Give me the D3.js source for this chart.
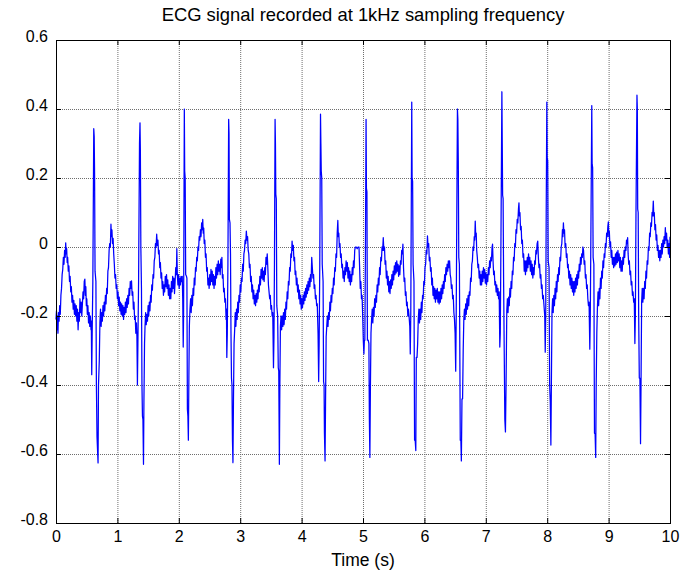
<!DOCTYPE html>
<html><head><meta charset="utf-8">
<script src="https://cdn.jsdelivr.net/npm/d3@7"></script>
<style>
body{margin:0;background:#fff}
text{font-family:"Liberation Sans",Arial,Helvetica,sans-serif;fill:#000}
</style>
</head><body><svg id="c" width="684" height="572"></svg>
<script>
const chartTitle = "ECG signal recorded at 1kHz sampling frequency";
const xLabel = "Time (s)";
const xTicks = [0,1,2,3,4,5,6,7,8,9,10];
const yTicks = [-0.8,-0.6,-0.4,-0.2,0,0.2,0.4,0.6];
const yTickLabels = ["-0.8","-0.6","-0.4","-0.2","0","0.2","0.4","0.6"];
const xDomain = [0,10];
const yDomain = [-0.8,0.6];
// [time (s), amplitude]
const ecg = [
[0.000,-0.210],[0.008,-0.185],[0.016,-0.240],[0.024,-0.200],[0.032,-0.250],[0.040,-0.190],[0.050,-0.215],[0.060,-0.170],[0.070,-0.195],[0.080,-0.140],[0.090,-0.120],[0.100,-0.080],[0.110,-0.065],[0.120,-0.030],[0.130,-0.050],[0.140,-0.010],[0.150,-0.030],[0.158,0.012],[0.166,-0.020],[0.174,-0.005],[0.182,-0.045],[0.190,-0.030],[0.200,-0.070],[0.210,-0.055],[0.220,-0.100],[0.230,-0.085],[0.240,-0.130],[0.250,-0.115],[0.260,-0.160],[0.270,-0.140],[0.280,-0.180],[0.290,-0.155],[0.300,-0.195],[0.310,-0.165],[0.320,-0.200],[0.330,-0.170],[0.340,-0.215],[0.350,-0.180],[0.360,-0.240],[0.370,-0.190],[0.380,-0.215],[0.390,-0.150],[0.400,-0.190],[0.410,-0.160],[0.420,-0.200],[0.430,-0.165],[0.440,-0.130],[0.450,-0.150],[0.460,-0.100],[0.470,-0.093],[0.478,-0.140],[0.486,-0.115],[0.494,-0.170],[0.502,-0.150],[0.510,-0.195],[0.520,-0.170],[0.530,-0.220],[0.540,-0.190],[0.550,-0.230],[0.560,-0.200],[0.570,-0.240],
[0.575,-0.215],[0.582,-0.370],[0.590,-0.240],[0.600,-0.100],[0.615,0.343],[0.622,0.320],[0.628,0.220],[0.636,-0.070],[0.650,-0.100],[0.658,-0.400],[0.668,-0.550],[0.685,-0.626],[0.692,-0.400],[0.705,-0.330],[0.715,-0.220],
[0.725,-0.180],[0.735,-0.230],[0.745,-0.190],[0.755,-0.215],[0.765,-0.170],[0.775,-0.200],[0.785,-0.160],[0.795,-0.185],[0.805,-0.140],[0.815,-0.165],[0.825,-0.120],[0.835,-0.135],[0.845,-0.070],[0.855,-0.060],[0.865,-0.010],[0.875,0.010],[0.885,0.000],[0.895,0.066],[0.903,0.030],[0.911,0.050],[0.920,0.010],[0.930,0.025],[0.940,-0.020],[0.950,-0.050],[0.960,-0.090],[0.970,-0.080],[0.980,-0.120],[0.990,-0.110],[1.000,-0.150],[1.010,-0.130],[1.020,-0.170],[1.030,-0.145],[1.040,-0.185],[1.050,-0.160],[1.060,-0.195],[1.070,-0.165],[1.080,-0.200],[1.090,-0.170],[1.100,-0.210],[1.110,-0.175],[1.120,-0.195],[1.130,-0.160],[1.140,-0.190],[1.150,-0.150],[1.160,-0.175],[1.170,-0.140],[1.180,-0.165],[1.190,-0.120],[1.200,-0.140],[1.210,-0.100],[1.220,-0.120],[1.230,-0.098],[1.240,-0.140],[1.250,-0.130],[1.260,-0.180],[1.270,-0.160],[1.280,-0.210],[1.290,-0.200],[1.300,-0.250],[1.310,-0.220],
[1.318,-0.260],[1.326,-0.400],[1.334,-0.280],[1.345,-0.100],[1.360,0.300],[1.368,0.360],[1.374,0.280],[1.382,0.000],[1.392,-0.120],[1.400,-0.400],[1.408,-0.490],[1.416,-0.500],[1.425,-0.630],[1.432,-0.450],[1.442,-0.280],[1.450,-0.230],
[1.460,-0.190],[1.470,-0.225],[1.480,-0.195],[1.490,-0.215],[1.500,-0.170],[1.510,-0.200],[1.520,-0.160],[1.530,-0.185],[1.540,-0.140],[1.550,-0.160],[1.560,-0.110],[1.570,-0.125],[1.580,-0.080],[1.590,-0.090],[1.600,-0.040],[1.610,-0.030],[1.620,0.010],[1.630,0.000],[1.640,0.037],[1.650,0.005],[1.660,0.020],[1.670,-0.020],[1.680,-0.010],[1.690,-0.060],[1.700,-0.045],[1.710,-0.090],[1.720,-0.075],[1.730,-0.120],[1.740,-0.100],[1.750,-0.140],[1.760,-0.110],[1.770,-0.130],[1.780,-0.085],[1.790,-0.115],[1.800,-0.080],[1.810,-0.120],[1.820,-0.095],[1.830,-0.140],[1.840,-0.110],[1.850,-0.150],[1.860,-0.120],[1.870,-0.150],[1.880,-0.100],[1.890,-0.130],[1.900,-0.085],[1.910,-0.120],[1.920,-0.090],[1.930,-0.135],[1.940,-0.100],[1.950,-0.060],[1.960,-0.080],[1.968,-0.005],[1.976,-0.080],[1.986,-0.110],[1.996,-0.080],[2.006,-0.120],[2.016,-0.090],[2.026,-0.110],[2.036,-0.085],
[2.046,-0.100],[2.056,-0.085],[2.064,-0.150],[2.072,-0.290],[2.078,-0.200],[2.084,0.100],[2.090,0.400],[2.096,0.220],[2.104,0.200],[2.112,-0.080],[2.125,-0.085],[2.132,-0.090],[2.140,-0.470],[2.148,-0.490],[2.156,-0.560],[2.164,-0.380],[2.172,-0.230],
[2.182,-0.180],[2.192,-0.150],[2.202,-0.190],[2.212,-0.140],[2.222,-0.170],[2.232,-0.120],[2.242,-0.140],[2.252,-0.090],[2.262,-0.110],[2.272,-0.060],[2.282,-0.070],[2.292,-0.030],[2.302,-0.040],[2.312,0.000],[2.322,-0.010],[2.332,0.030],[2.342,0.020],[2.352,0.050],[2.362,0.030],[2.372,0.070],[2.382,0.050],[2.390,0.080],[2.398,0.040],[2.406,0.055],[2.414,0.010],[2.424,0.020],[2.434,-0.030],[2.444,-0.020],[2.454,-0.070],[2.464,-0.060],[2.474,-0.110],[2.484,-0.090],[2.494,-0.120],[2.504,-0.080],[2.514,-0.110],[2.524,-0.065],[2.534,-0.100],[2.544,-0.070],[2.554,-0.110],[2.564,-0.080],[2.574,-0.120],[2.584,-0.085],[2.594,-0.110],[2.604,-0.060],[2.614,-0.090],[2.624,-0.050],[2.634,-0.080],[2.644,-0.040],[2.654,-0.070],[2.664,-0.050],[2.674,-0.080],[2.684,-0.035],[2.694,-0.060],[2.702,-0.030],[2.710,-0.090],[2.720,-0.080],[2.730,-0.130],[2.740,-0.120],[2.750,-0.160],[2.760,-0.150],[2.770,-0.210],[2.776,-0.180],
[2.782,-0.320],[2.790,-0.250],[2.800,-0.050],[2.812,0.370],[2.818,0.330],[2.824,0.080],[2.834,0.070],[2.842,-0.020],[2.850,-0.250],[2.858,-0.380],[2.866,-0.400],[2.874,-0.560],[2.882,-0.625],[2.890,-0.450],[2.900,-0.280],[2.910,-0.240],
[2.920,-0.190],[2.930,-0.230],[2.940,-0.180],[2.950,-0.210],[2.960,-0.160],[2.970,-0.190],[2.980,-0.140],[2.990,-0.160],[3.000,-0.110],[3.010,-0.130],[3.020,-0.090],[3.030,-0.100],[3.040,-0.050],[3.050,-0.070],[3.060,-0.020],[3.070,-0.010],[3.080,0.020],[3.090,0.010],[3.100,0.046],[3.110,0.020],[3.120,0.030],[3.130,-0.010],[3.140,-0.020],[3.150,-0.060],[3.160,-0.050],[3.170,-0.100],[3.180,-0.085],[3.190,-0.130],[3.200,-0.110],[3.210,-0.150],[3.220,-0.125],[3.230,-0.165],[3.240,-0.140],[3.250,-0.170],[3.260,-0.135],[3.270,-0.160],[3.280,-0.125],[3.290,-0.150],[3.300,-0.110],[3.310,-0.130],[3.320,-0.085],[3.330,-0.110],[3.340,-0.065],[3.350,-0.090],[3.360,-0.060],[3.370,-0.095],[3.380,-0.070],[3.390,-0.100],[3.400,-0.060],[3.410,-0.080],[3.420,-0.030],[3.430,-0.050],[3.440,-0.020],[3.450,-0.060],[3.460,-0.110],[3.470,-0.130],[3.480,-0.150],[3.490,-0.140],[3.500,-0.180],[3.510,-0.170],[3.520,-0.200],
[3.530,-0.190],[3.542,-0.350],[3.550,-0.260],[3.558,-0.050],[3.568,0.370],[3.574,0.300],[3.580,0.153],[3.588,0.140],[3.596,-0.170],[3.610,-0.200],[3.620,-0.350],[3.628,-0.360],[3.638,-0.630],[3.646,-0.400],[3.655,-0.230],
[3.665,-0.200],[3.675,-0.240],[3.685,-0.200],[3.695,-0.230],[3.705,-0.190],[3.715,-0.225],[3.725,-0.180],[3.735,-0.210],[3.745,-0.160],[3.755,-0.180],[3.765,-0.130],[3.775,-0.150],[3.785,-0.100],[3.795,-0.110],[3.805,-0.060],[3.815,-0.070],[3.825,-0.020],[3.835,-0.030],[3.845,0.017],[3.855,-0.010],[3.865,0.005],[3.875,-0.040],[3.885,-0.030],[3.895,-0.080],[3.905,-0.070],[3.915,-0.110],[3.925,-0.090],[3.935,-0.130],[3.945,-0.110],[3.955,-0.150],[3.965,-0.125],[3.975,-0.165],[3.985,-0.140],[3.995,-0.180],[4.005,-0.150],[4.015,-0.175],[4.025,-0.140],[4.035,-0.165],[4.045,-0.130],[4.055,-0.155],[4.065,-0.120],[4.075,-0.145],[4.085,-0.110],[4.095,-0.135],[4.105,-0.100],[4.115,-0.125],[4.125,-0.090],[4.135,-0.115],[4.145,-0.080],[4.155,-0.100],[4.165,-0.030],[4.175,-0.060],[4.185,-0.090],[4.195,-0.080],[4.205,-0.120],[4.215,-0.110],[4.225,-0.150],[4.235,-0.140],[4.245,-0.170],[4.255,-0.165],
[4.268,-0.250],[4.278,-0.390],[4.286,-0.280],[4.296,-0.050],[4.308,0.385],[4.314,0.300],[4.320,0.220],[4.328,0.200],[4.336,-0.050],[4.350,-0.100],[4.358,-0.390],[4.366,-0.400],[4.372,-0.540],[4.382,-0.620],[4.390,-0.450],[4.400,-0.260],[4.410,-0.230],
[4.420,-0.200],[4.430,-0.230],[4.440,-0.190],[4.450,-0.210],[4.460,-0.160],[4.470,-0.185],[4.480,-0.140],[4.490,-0.160],[4.500,-0.120],[4.510,-0.135],[4.520,-0.090],[4.530,-0.110],[4.540,-0.060],[4.550,-0.070],[4.560,-0.020],[4.570,-0.030],[4.580,0.040],[4.590,0.077],[4.598,0.030],[4.606,0.040],[4.615,0.000],[4.625,0.010],[4.635,-0.030],[4.645,-0.020],[4.655,-0.060],[4.665,-0.050],[4.675,-0.090],[4.685,-0.070],[4.695,-0.100],[4.705,-0.060],[4.715,-0.080],[4.725,-0.040],[4.735,-0.070],[4.745,-0.045],[4.755,-0.090],[4.765,-0.060],[4.775,-0.100],[4.785,-0.070],[4.795,-0.110],[4.805,-0.080],[4.815,-0.100],[4.825,-0.060],[4.835,-0.080],[4.845,-0.040],[4.855,-0.060],[4.865,-0.010],[4.875,0.000],[4.890,0.000],[4.905,-0.005],[4.920,0.000],[4.935,0.000],[4.945,-0.060],[4.955,-0.120],[4.965,-0.100],[4.975,-0.150],[4.985,-0.140],[4.995,-0.200],[5.005,-0.270],
[5.015,-0.310],[5.022,-0.270],[5.030,-0.270],[5.040,0.000],[5.050,0.370],[5.056,0.170],[5.064,0.160],[5.072,-0.270],[5.085,-0.270],[5.096,-0.280],[5.104,-0.500],[5.112,-0.610],[5.120,-0.420],[5.130,-0.250],[5.140,-0.210],
[5.150,-0.180],[5.160,-0.220],[5.170,-0.175],[5.180,-0.200],[5.190,-0.150],[5.200,-0.175],[5.210,-0.140],[5.220,-0.160],[5.230,-0.110],[5.240,-0.130],[5.250,-0.090],[5.260,-0.110],[5.270,-0.060],[5.280,-0.080],[5.290,-0.030],[5.300,-0.040],[5.310,0.000],[5.320,-0.010],[5.330,0.027],[5.340,-0.010],[5.350,0.000],[5.360,-0.050],[5.370,-0.040],[5.380,-0.090],[5.390,-0.070],[5.400,-0.110],[5.410,-0.085],[5.420,-0.130],[5.430,-0.100],[5.440,-0.135],[5.450,-0.095],[5.460,-0.120],[5.470,-0.080],[5.480,-0.110],[5.490,-0.070],[5.500,-0.095],[5.510,-0.055],[5.520,-0.080],[5.530,-0.045],[5.540,-0.075],[5.550,-0.040],[5.560,-0.070],[5.570,-0.050],[5.580,-0.085],[5.590,-0.055],[5.600,-0.080],[5.610,-0.040],[5.620,-0.050],[5.630,-0.010],[5.640,-0.020],[5.650,0.008],[5.660,-0.060],[5.670,-0.100],[5.680,-0.090],[5.690,-0.140],[5.700,-0.130],[5.710,-0.170],[5.720,-0.160],[5.730,-0.200],[5.740,-0.180],[5.750,-0.200],
[5.762,-0.230],[5.770,-0.310],[5.778,-0.200],[5.786,0.100],[5.794,0.420],[5.800,0.200],[5.808,0.190],[5.816,-0.050],[5.830,-0.100],[5.840,-0.560],[5.850,-0.560],[5.860,-0.590],[5.868,-0.320],[5.880,-0.320],[5.890,-0.280],[5.900,-0.210],
[5.910,-0.180],[5.920,-0.220],[5.930,-0.180],[5.940,-0.210],[5.950,-0.160],[5.960,-0.190],[5.970,-0.140],[5.980,-0.150],[5.990,-0.100],[6.000,-0.110],[6.010,-0.060],[6.020,-0.050],[6.030,-0.010],[6.040,-0.020],[6.050,0.032],[6.060,0.000],[6.070,0.010],[6.080,-0.040],[6.090,-0.030],[6.100,-0.070],[6.110,-0.060],[6.120,-0.110],[6.130,-0.090],[6.140,-0.140],[6.150,-0.115],[6.160,-0.150],[6.170,-0.120],[6.180,-0.160],[6.190,-0.125],[6.200,-0.150],[6.210,-0.120],[6.220,-0.160],[6.230,-0.130],[6.240,-0.165],[6.250,-0.130],[6.260,-0.160],[6.270,-0.120],[6.280,-0.150],[6.290,-0.110],[6.300,-0.135],[6.310,-0.100],[6.320,-0.120],[6.330,-0.080],[6.340,-0.100],[6.350,-0.060],[6.360,-0.080],[6.370,-0.050],[6.380,-0.070],[6.390,-0.040],[6.400,-0.060],[6.410,-0.040],[6.420,-0.080],[6.430,-0.090],[6.440,-0.120],[6.450,-0.110],[6.460,-0.150],[6.470,-0.140],[6.480,-0.190],[6.490,-0.210],
[6.500,-0.250],[6.510,-0.360],[6.518,-0.200],[6.528,0.100],[6.538,0.400],[6.545,0.370],[6.552,0.250],[6.560,-0.030],[6.570,-0.050],[6.584,-0.560],[6.594,-0.560],[6.602,-0.620],[6.612,-0.440],[6.622,-0.440],[6.632,-0.300],[6.642,-0.210],
[6.652,-0.180],[6.662,-0.210],[6.672,-0.165],[6.682,-0.195],[6.692,-0.150],[6.702,-0.180],[6.712,-0.140],[6.722,-0.170],[6.732,-0.130],[6.742,-0.140],[6.752,-0.090],[6.762,-0.100],[6.772,-0.050],[6.782,-0.040],[6.792,0.000],[6.802,-0.010],[6.812,0.030],[6.820,0.020],[6.828,0.075],[6.836,0.030],[6.844,0.040],[6.852,-0.010],[6.862,-0.030],[6.872,-0.060],[6.882,-0.050],[6.892,-0.090],[6.902,-0.070],[6.912,-0.110],[6.922,-0.080],[6.932,-0.110],[6.942,-0.070],[6.952,-0.100],[6.962,-0.060],[6.972,-0.090],[6.982,-0.065],[6.992,-0.105],[7.002,-0.075],[7.012,-0.110],[7.022,-0.080],[7.032,-0.100],[7.042,-0.060],[7.052,-0.080],[7.062,-0.040],[7.072,-0.060],[7.082,-0.030],[7.092,-0.040],[7.102,0.000],[7.110,0.008],[7.118,-0.040],[7.128,-0.080],[7.138,-0.070],[7.148,-0.110],[7.158,-0.100],[7.168,-0.130],[7.178,-0.110],[7.188,-0.140],[7.198,-0.120],[7.208,-0.150],[7.218,-0.130],
[7.228,-0.290],[7.236,-0.250],[7.246,0.000],[7.262,0.450],[7.268,0.300],[7.274,0.150],[7.282,0.140],[7.290,-0.100],[7.300,-0.300],[7.310,-0.500],[7.320,-0.536],[7.330,-0.400],[7.342,-0.185],
[7.352,-0.150],[7.362,-0.190],[7.372,-0.145],[7.382,-0.170],[7.392,-0.120],[7.402,-0.145],[7.412,-0.100],[7.422,-0.120],[7.432,-0.070],[7.442,-0.080],[7.452,-0.030],[7.462,-0.040],[7.472,0.010],[7.482,0.000],[7.492,0.050],[7.502,0.040],[7.512,0.080],[7.522,0.070],[7.532,0.110],[7.540,0.128],[7.548,0.090],[7.556,0.100],[7.566,0.050],[7.576,0.060],[7.586,0.010],[7.596,0.020],[7.606,-0.030],[7.616,-0.020],[7.626,-0.070],[7.636,-0.040],[7.646,-0.080],[7.656,-0.040],[7.666,-0.070],[7.676,-0.030],[7.686,-0.060],[7.696,-0.020],[7.706,-0.050],[7.716,-0.030],[7.726,-0.070],[7.736,-0.040],[7.746,-0.080],[7.756,-0.050],[7.766,-0.090],[7.776,-0.060],[7.786,-0.080],[7.796,-0.040],[7.806,-0.050],[7.816,-0.010],[7.826,-0.020],[7.836,0.010],[7.846,0.017],[7.856,-0.030],[7.866,-0.060],[7.876,-0.050],[7.886,-0.090],[7.896,-0.080],[7.906,-0.120],[7.916,-0.110],[7.926,-0.150],[7.936,-0.140],[7.946,-0.165],
[7.960,-0.200],[7.968,-0.305],[7.976,-0.200],[7.984,0.100],[7.994,0.420],[8.000,0.260],[8.008,0.250],[8.016,-0.040],[8.030,-0.060],[8.040,-0.400],[8.050,-0.450],[8.060,-0.574],[8.068,-0.400],[8.078,-0.190],
[8.088,-0.150],[8.098,-0.190],[8.108,-0.140],[8.118,-0.170],[8.128,-0.120],[8.138,-0.150],[8.148,-0.100],[8.158,-0.130],[8.168,-0.080],[8.178,-0.100],[8.188,-0.060],[8.198,-0.080],[8.208,-0.030],[8.218,-0.040],[8.228,0.000],[8.238,0.010],[8.248,0.050],[8.256,0.030],[8.264,0.070],[8.272,0.040],[8.282,0.050],[8.292,0.000],[8.302,0.010],[8.312,-0.030],[8.322,-0.020],[8.332,-0.060],[8.342,-0.050],[8.352,-0.090],[8.362,-0.070],[8.372,-0.110],[8.382,-0.080],[8.392,-0.120],[8.402,-0.090],[8.412,-0.130],[8.422,-0.100],[8.432,-0.140],[8.442,-0.100],[8.452,-0.130],[8.462,-0.090],[8.472,-0.120],[8.482,-0.080],[8.492,-0.110],[8.502,-0.070],[8.512,-0.090],[8.522,-0.050],[8.532,-0.070],[8.542,-0.030],[8.552,-0.050],[8.562,-0.020],[8.572,-0.030],[8.582,0.000],[8.592,-0.010],[8.602,-0.050],[8.612,-0.040],[8.622,-0.090],[8.632,-0.080],[8.642,-0.120],[8.652,-0.110],[8.662,-0.150],[8.672,-0.170],[8.682,-0.160],
[8.694,-0.296],[8.702,-0.200],[8.712,0.050],[8.726,0.410],[8.732,0.240],[8.740,0.230],[8.748,-0.030],[8.760,-0.050],[8.770,-0.540],[8.780,-0.540],[8.790,-0.610],[8.798,-0.400],[8.808,-0.250],[8.818,-0.175],
[8.828,-0.130],[8.838,-0.170],[8.848,-0.120],[8.858,-0.150],[8.868,-0.090],[8.878,-0.120],[8.888,-0.070],[8.898,-0.090],[8.908,-0.040],[8.918,-0.060],[8.928,-0.020],[8.938,-0.030],[8.948,0.010],[8.958,0.000],[8.968,0.040],[8.978,0.030],[8.988,0.060],[8.996,0.073],[9.004,0.030],[9.012,0.045],[9.022,0.000],[9.032,0.015],[9.042,-0.030],[9.052,-0.010],[9.062,-0.050],[9.072,-0.030],[9.082,-0.060],[9.092,-0.030],[9.102,-0.055],[9.112,-0.020],[9.122,-0.050],[9.132,-0.015],[9.142,-0.045],[9.152,-0.010],[9.162,-0.040],[9.172,-0.020],[9.182,-0.060],[9.192,-0.030],[9.202,-0.070],[9.212,-0.040],[9.222,-0.070],[9.232,-0.030],[9.242,-0.050],[9.252,-0.010],[9.262,-0.030],[9.272,0.000],[9.282,-0.010],[9.292,0.020],[9.302,0.010],[9.310,0.027],[9.318,-0.020],[9.328,-0.050],[9.338,-0.040],[9.348,-0.080],[9.358,-0.070],[9.368,-0.110],[9.378,-0.100],[9.388,-0.140],[9.398,-0.130],[9.408,-0.160],[9.418,-0.150],
[9.428,-0.280],[9.436,-0.200],[9.446,0.100],[9.462,0.440],[9.468,0.400],[9.474,0.110],[9.482,0.100],[9.490,-0.200],[9.500,-0.380],[9.510,-0.380],[9.520,-0.570],[9.528,-0.400],[9.538,-0.160],
[9.548,-0.120],[9.558,-0.160],[9.568,-0.120],[9.578,-0.150],[9.588,-0.100],[9.598,-0.120],[9.608,-0.070],[9.618,-0.090],[9.628,-0.040],[9.638,-0.050],[9.648,0.000],[9.658,-0.010],[9.668,0.040],[9.678,0.030],[9.688,0.070],[9.698,0.060],[9.708,0.100],[9.718,0.090],[9.728,0.133],[9.736,0.090],[9.744,0.100],[9.754,0.050],[9.764,0.065],[9.774,0.020],[9.784,0.035],[9.794,-0.010],[9.804,0.005],[9.814,-0.030],[9.824,-0.010],[9.834,-0.040],[9.844,-0.010],[9.854,-0.030],[9.864,0.010],[9.874,-0.020],[9.884,0.020],[9.894,0.000],[9.904,0.030],[9.914,0.010],[9.924,0.056],[9.934,0.020],[9.944,0.040],[9.954,0.000],[9.964,0.020],[9.974,-0.020],[9.984,0.010],[9.994,-0.030],[10.000,0.030]
];

const W = 684, H = 572;
const m = {left:56, right:14, top:40, bottom:49};
const iw = W - m.left - m.right, ih = H - m.top - m.bottom;

const svg = d3.select("#c");
svg.append("rect").attr("width",W).attr("height",H).attr("fill","#fff");
const g = svg.append("g").attr("transform",`translate(${m.left},${m.top})`);

const x = d3.scaleLinear().domain(xDomain).range([0, iw]);
const y = d3.scaleLinear().domain(yDomain).range([ih, 0]);

// grid
const gridStyle = sel => {
  sel.select(".domain").remove();
  sel.selectAll(".tick line").attr("stroke","#6e6e6e").attr("stroke-dasharray","1,1").attr("stroke-width",1);
  sel.selectAll(".tick text").remove();
};
g.append("g").attr("transform",`translate(0,${ih})`)
  .call(d3.axisBottom(x).tickValues(xTicks).tickSize(-ih).tickFormat(""))
  .call(gridStyle);
g.append("g")
  .call(d3.axisLeft(y).tickValues(yTicks).tickSize(-iw).tickFormat(""))
  .call(gridStyle);

// data line
g.append("path")
  .datum(ecg)
  .attr("fill","none")
  .attr("stroke","#0000ff")
  .attr("stroke-width",1.25)
  .attr("stroke-linejoin","round")
  .attr("d", d3.line().x(d => x(d[0])).y(d => y(d[1])));

// axes with inward ticks
const styleAxis = sel => {
  sel.select(".domain").remove();
  sel.selectAll(".tick line").attr("stroke","#000");
  sel.selectAll(".tick text").style("font-size","16px").attr("fill","#000");
};
g.append("g").attr("transform",`translate(0,${ih})`)
  .call(d3.axisBottom(x).tickValues(xTicks).tickSizeInner(-5).tickSizeOuter(0).tickPadding(7).tickFormat(d3.format("d")))
  .call(styleAxis)
  .selectAll(".tick text").attr("dy","0.75em");
g.append("g")
  .call(d3.axisTop(x).tickValues(xTicks).tickSizeInner(-5).tickSizeOuter(0).tickFormat(""))
  .call(styleAxis);
g.append("g")
  .call(d3.axisLeft(y).tickValues(yTicks).tickSizeInner(-5).tickSizeOuter(0).tickPadding(8)
    .tickFormat((d,i) => yTickLabels[i]))
  .call(styleAxis)
  .selectAll(".tick text").attr("dy","0.1em");
g.append("g").attr("transform",`translate(${iw},0)`)
  .call(d3.axisRight(y).tickValues(yTicks).tickSizeInner(-5).tickSizeOuter(0).tickFormat(""))
  .call(styleAxis);

// box
g.append("rect").attr("x",0.5).attr("y",0.5).attr("width",iw).attr("height",ih)
  .attr("fill","none").attr("stroke","#000").attr("stroke-width",1);

// title & label
svg.append("text").attr("x", m.left + iw/2).attr("y", 21)
  .attr("text-anchor","middle").style("font-size","18.4px").text(chartTitle);
svg.append("text").attr("x", m.left + iw/2).attr("y", 566)
  .attr("text-anchor","middle").style("font-size","17.5px").text(xLabel);
</script>
</body></html>
